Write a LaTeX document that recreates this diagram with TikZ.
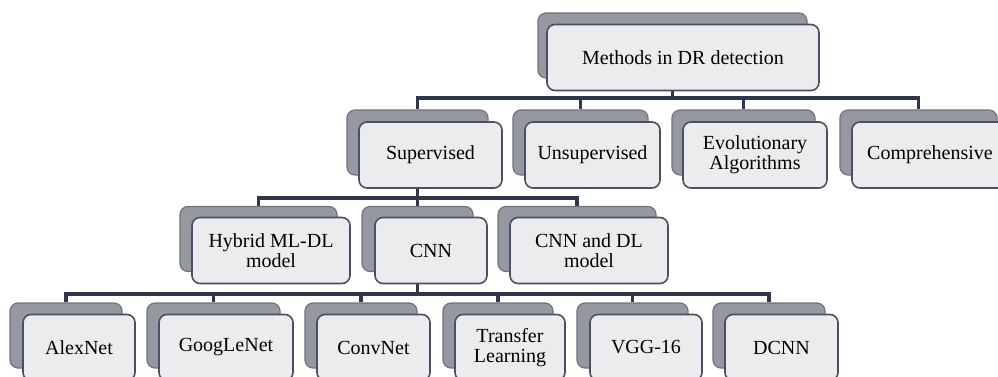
\documentclass[tikz,border=0pt]{standalone}
\usepackage{fontspec}
\setmainfont{Liberation Serif}
\usetikzlibrary{calc,backgrounds,positioning}

\definecolor{backfill}{RGB}{150,152,160}
\definecolor{backline}{RGB}{112,114,124}
\definecolor{frontfill}{RGB}{236,236,238}
\definecolor{frontline}{RGB}{72,80,98}
\definecolor{connline}{RGB}{44,54,76}

\begin{document}
\begin{tikzpicture}[x=0.5pt, y=-0.5pt]

\tikzstyle{back}=[draw=backline, fill=backfill, rounded corners=4pt, line width=0.6pt, inner sep=0pt, minimum height=32.5pt]
\tikzstyle{front}=[draw=frontline, fill=frontfill, rounded corners=4pt, line width=0.8pt, inner sep=0pt, minimum height=33pt, align=center, font=\fontsize{10}{10.2}\selectfont]
\tikzstyle{cr}=[draw=connline, line width=1.6pt]

\useasboundingbox (0,0) rectangle (998,376);

% top
\node(TopB)[style = back, minimum width=134.5pt] at (672.5,45.5) {};
\node(Top)[style = front, minimum width=136pt] at ($(TopB)+(10.5,12)$) {Methods in DR detection};

% level 1
\node(SupB)[style = back, minimum width=70.5pt] at (417.5,142.5) {};
\node(Sup)[style = front, minimum width=71.5pt] at ($(SupB)+(13,12.5)$) {Supervised};

\node(UnsB)[style = back, minimum width=67.5pt] at (580.5,142.5) {};
\node(Uns)[style = front, minimum width=67.5pt] at ($(UnsB)+(12,12.5)$) {Unsupervised};

\node(EvoB)[style = back, minimum width=71.5pt] at (743.5,142.5) {};
\node(Evo)[style = front, minimum width=72pt] at ($(EvoB)+(11.5,12.5)$) {Evolutionary\\Algorithms};

\node(CompB)[style = back, minimum width=78.5pt] at (918.5,142.5) {};
\node(Comp)[style = front, minimum width=78pt] at ($(CompB)+(11.5,12.5)$) {Comprehensive};

% level 2
\node(HybB)[style = back, minimum width=78.5pt] at (258.5,239) {};
\node(Hyb)[style = front, minimum width=79pt] at ($(HybB)+(12.5,11.5)$) {Hybrid ML-DL\\model};

\node(CnnB)[style = back, minimum width=55.5pt] at (417.5,239) {};
\node(Cnn)[style = front, minimum width=56pt] at ($(CnnB)+(13.5,11.5)$) {CNN};

\node(DlB)[style = back, minimum width=79pt] at (577,239) {};
\node(Dl)[style = front, minimum width=79pt] at ($(DlB)+(12,11.5)$) {CNN and DL\\model};

% level 3
\node(AlexB)[style = back, minimum width=56pt] at (66,335.5) {};
\node(Alex)[style = front, minimum width=56pt] at ($(AlexB)+(13,12)$) {AlexNet};

\node(GoogB)[style = back, minimum width=66.5pt] at (213.5,335.5) {};
\node(Goog)[style = front, minimum width=67pt] at ($(GoogB)+(12.5,12)$) {GoogLeNet};

\node(ConvB)[style = back, minimum width=56pt] at (361,335.5) {};
\node(Conv)[style = front, minimum width=56.5pt] at ($(ConvB)+(12.5,12)$) {ConvNet};

\node(TransB)[style = back, minimum width=55pt] at (498,335.5) {};
\node(Trans)[style = front, minimum width=55pt] at ($(TransB)+(12,12)$) {Transfer\\Learning};

\node(VggB)[style = back, minimum width=55.5pt] at (632.5,335.5) {};
\node(Vgg)[style = front, minimum width=56pt] at ($(VggB)+(13.5,12)$) {VGG-16};

\node(DcnnB)[style = back, minimum width=56pt] at (769,335.5) {};
\node(Dcnn)[style = front, minimum width=56.5pt] at ($(DcnnB)+(12.5,12)$) {DCNN};

% connectors
\coordinate(L1) at (0,98);
\coordinate(L2) at (0,198);
\coordinate(L3) at (0,294);

\begin{scope}[on background layer]
\foreach \c in {SupB,UnsB,EvoB,CompB}
  \draw[style = cr] (TopB) -- (TopB |- L1) -| (\c);
\foreach \c in {HybB,CnnB,DlB}
  \draw[style = cr] (SupB) -- (SupB |- L2) -| (\c);
\foreach \c in {AlexB,GoogB,ConvB,TransB,VggB,DcnnB}
  \draw[style = cr] (CnnB) -- (CnnB |- L3) -| (\c);
\end{scope}

\end{tikzpicture}
\end{document}
